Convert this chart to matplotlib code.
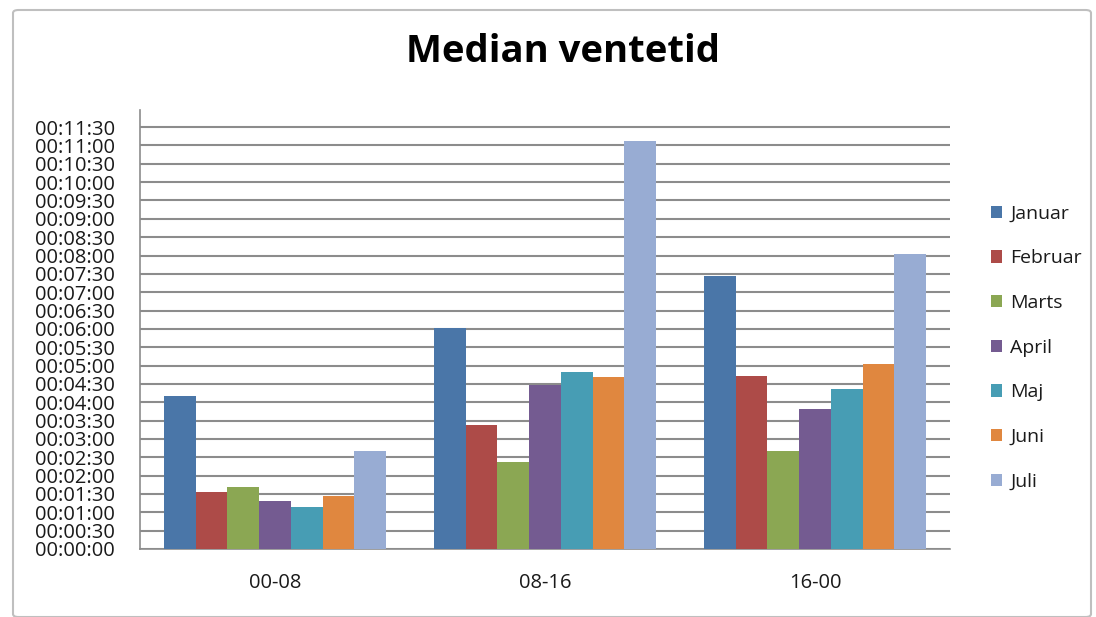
import matplotlib.pyplot as plt
import numpy as np
from matplotlib.patches import FancyBboxPatch
from matplotlib.ticker import FuncFormatter

# categories and months
periods = ["00-08", "08-16", "16-00"]
months = ["Januar", "Februar", "Marts", "April", "Maj", "Juni", "Juli"]

# median waiting time in seconds, one list per month (00-08, 08-16, 16-00)
januar = [250, 361, 446]
februar = [93, 203, 283]
marts = [101, 142, 160]
april = [78, 269, 229]
maj = [68, 290, 262]
juni = [86, 282, 303]
juli = [160, 668, 482]
values = [januar, februar, marts, april, maj, juni, juli]

colors = ["#4A76A8", "#AD4B48", "#8BA753", "#745B91", "#479DB4", "#E0873F", "#98ACD3"]

plt.rcParams['font.family'] = ['Open Sans', 'DejaVu Sans']

fig = plt.figure(figsize=(10.96, 6.17), dpi=100)

# chart frame
frame = FancyBboxPatch((13/1096, 0.0), 1078/1096, 1 - 10/617,
                       boxstyle="round,pad=0,rounding_size=0.005",
                       transform=fig.transFigure, facecolor="white",
                       edgecolor="#BFBFBF", linewidth=1.5, zorder=0)
fig.patches.append(frame)

ax = fig.add_axes([140/1096, 1 - 549/617, 810/1096, 439/617])
ax.set_facecolor("none")
ax.set_zorder(2)

x = np.arange(len(periods))
n = len(months)
width = 1.0 / (n + 1.5)
for i in range(n):
    offs = (i - (n - 1) / 2) * width
    ax.bar(x + offs, values[i], width, color=colors[i], label=months[i], zorder=3)

ax.set_xlim(-0.5, len(periods) - 0.5)
ax.set_ylim(0, 718)
ax.set_yticks(np.arange(0, 691, 30))

def fmt(v, pos):
    v = int(round(v))
    return "%02d:%02d:%02d" % (v // 3600, (v % 3600) // 60, v % 60)

ax.yaxis.set_major_formatter(FuncFormatter(fmt))
ax.set_xticks(x)
ax.set_xticklabels(periods)
ax.tick_params(axis='y', length=0, labelsize=14.5, pad=18, colors="#1a1a1a")
ax.tick_params(axis='x', length=0, labelsize=14.5, pad=17, colors="#1a1a1a")

ax.grid(axis='y', color="#8C8C8C", linewidth=1.5, zorder=0)
for s in ["top", "right"]:
    ax.spines[s].set_visible(False)
ax.spines["left"].set_color("#8C8C8C")
ax.spines["bottom"].set_color("#8C8C8C")
ax.spines["left"].set_linewidth(1.2)
ax.spines["bottom"].set_linewidth(1.2)

fig.text(563/1096, 1 - 52/617, "Median ventetid", ha="center", va="center",
         fontsize=27.5, fontweight="bold", color="black")

leg = fig.legend(loc="upper left", bbox_to_anchor=(983/1096, 1 - 197/617),
                 frameon=False, fontsize=14, handlelength=0.6, handleheight=0.6,
                 handletextpad=0.4, labelspacing=1.37, borderaxespad=0,
                 labelcolor="#1a1a1a")

fig.savefig("out.png", dpi=100)
